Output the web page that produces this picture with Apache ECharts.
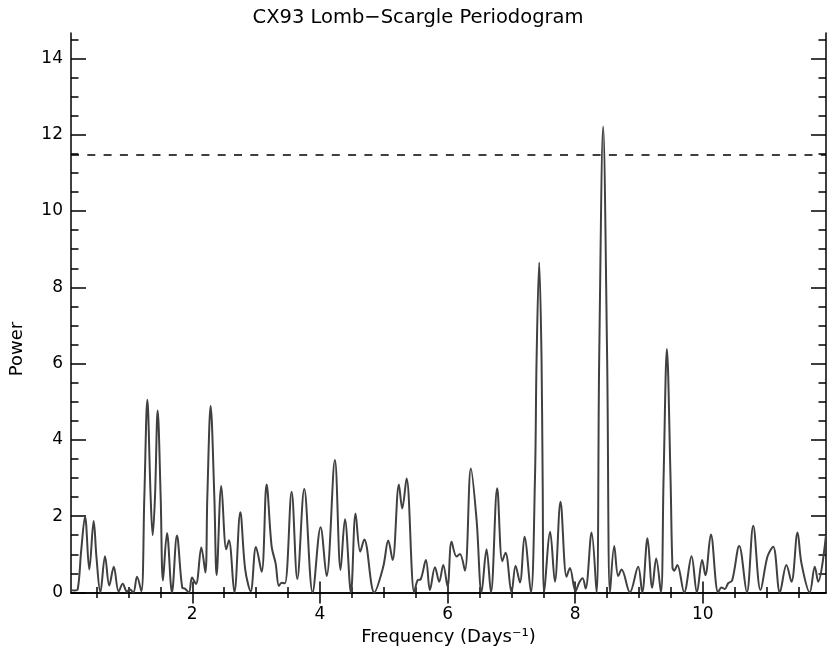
<!DOCTYPE html>
<html>
<head>
<meta charset="utf-8">
<script src="https://cdn.jsdelivr.net/npm/echarts@6/dist/echarts.min.js"></script>
<style>
html,body{margin:0;padding:0;background:#fff;}
#chart{width:827px;height:653px;}
</style>
</head>
<body>
<div id="chart"></div>
<script>
// Frequency (Days^-1) values
const freq = [
  0.10, 0.15, 0.205, 0.26, 0.32, 0.387, 0.455, 0.50, 0.56, 0.633, 0.70, 0.77, 0.847, 0.91, 0.977, 1.02, 1.077, 1.134, 1.202,
  1.249, 1.296, 1.348, 1.38, 1.416, 1.458, 1.505, 1.541, 1.604, 1.682, 1.76, 1.844, 1.885, 1.948, 1.996, 2.058, 2.142, 2.205,
  2.236, 2.288, 2.346, 2.382, 2.455, 2.533, 2.575, 2.66, 2.753, 2.83, 2.915, 2.998, 3.087, 3.165, 3.244, 3.306, 3.358, 3.40,
  3.452, 3.557, 3.646, 3.755, 3.886, 4.011, 4.105, 4.235, 4.324, 4.392, 4.486, 4.559, 4.632, 4.695, 4.852, 4.992, 5.071,
  5.139, 5.238, 5.29, 5.358, 5.478, 5.531, 5.578, 5.661, 5.724, 5.803, 5.87, 5.933, 6.0, 6.063, 6.141, 6.194, 6.272, 6.366,
  6.455, 6.533, 6.611, 6.68, 6.778, 6.857, 6.909, 7.003, 7.066, 7.134, 7.206, 7.306, 7.37, 7.395, 7.436, 7.473, 7.49, 7.515,
  7.608, 7.682, 7.77, 7.865, 7.917, 8.006, 8.058, 8.116, 8.163, 8.257, 8.335, 8.376, 8.438, 8.501, 8.546, 8.612, 8.674,
  8.727, 8.857, 8.987, 9.05, 9.133, 9.207, 9.269, 9.343, 9.385, 9.437, 9.494, 9.525, 9.551, 9.60, 9.708, 9.823, 9.907,
  9.99, 10.04, 10.126, 10.24, 10.293, 10.345, 10.397, 10.459, 10.57, 10.69, 10.79, 10.904, 11.013, 11.102, 11.207, 11.31,
  11.389, 11.484, 11.546, 11.675, 11.754, 11.807, 11.93
];
// Power values
const power = [
  0.06, 0.05, 0.08, 1.1, 1.99, 0.60, 1.87, 0.9, 0.0, 0.95, 0.18, 0.67, 0.02, 0.23, 0.02, 0.08, 0.0, 0.41, 0.03,
  2.5, 5.05, 2.5, 1.50, 2.5, 4.77, 2.5, 0.31, 1.56, 0.0, 1.49, 0.12, 0.10, 0.0, 0.39, 0.22, 1.18, 0.52,
  2.5, 4.89, 2.5, 0.45, 2.79, 1.13, 1.37, 0.0, 2.10, 0.6, 0.03, 1.19, 0.54, 2.83, 1.2, 0.76, 0.17, 0.25,
  0.24, 2.64, 0.35, 2.71, 0.0, 1.71, 0.43, 3.47, 0.59, 1.92, 0.0, 2.07, 1.07, 1.39, 0.0, 0.67, 1.36,
  0.85, 2.83, 2.20, 2.99, 0.0, 0.32, 0.34, 0.85, 0.06, 0.66, 0.28, 0.72, 0.15, 1.33, 0.94, 1.01, 0.57, 3.25,
  1.9, 0.0, 1.13, 0.0, 2.73, 0.82, 1.04, 0.0, 0.70, 0.26, 1.46, 0.0, 3.0, 6.1, 8.65, 6.1, 3.0, 0.0,
  1.59, 0.28, 2.38, 0.41, 0.64, 0.03, 0.24, 0.37, 0.10, 1.57, 0.0, 6.1, 12.22, 6.1, 0.0, 1.22, 0.43,
  0.60, 0.0, 0.67, 0.0, 1.42, 0.12, 0.89, 0.0, 3.0, 6.38, 3.0, 0.65, 0.57, 0.72, 0.0, 0.95, 0.0,
  0.85, 0.45, 1.52, 0.0, 0.13, 0.09, 0.24, 0.31, 1.22, 0.0, 1.75, 0.06, 0.94, 1.20, 0.0, 0.72,
  0.28, 1.57, 0.76, 0.0, 0.67, 0.28, 1.5
];
// Significance threshold (dashed line)
const threshold = [11.48];
// Tick labels
const xTickValues = [2, 4, 6, 8, 10];
const yTickValues = [0, 2, 4, 6, 8, 10, 12, 14];
// Axis extents
const xExtent = [0.10, 11.93];
const yExtent = [0, 14.67];
const yTickStep = 2;

const chart = echarts.init(document.getElementById('chart'), null, {renderer: 'canvas'});
const FONT = 'DejaVu Sans';
const axisCommon = {
  axisLine: {show: true, lineStyle: {color: '#000', width: 1.5}},
  splitLine: {show: false},
  minorSplitLine: {show: false}
};
function xAxisDef(pos, showLabels) {
  return Object.assign({}, axisCommon, {
    type: 'value', position: pos, min: xExtent[0], max: xExtent[1], splitNumber: 5,
    axisTick: {show: true, inside: true, length: 11, customValues: xTickValues,
               lineStyle: {color: '#000', width: 1.5}},
    minorTick: {show: true, splitNumber: 4, length: 5.5, lineStyle: {color: '#000', width: 1.5}},
    axisLabel: {
      show: showLabels, margin: 14, customValues: xTickValues,
      color: '#000', fontFamily: FONT, fontSize: 17
    },
    name: showLabels ? 'Frequency (Days\u207B\u00B9)' : '',
    nameLocation: 'middle', nameGap: 32,
    nameTextStyle: {color: '#000', fontFamily: FONT, fontSize: 18}
  });
}
function yAxisDef(pos, showLabels) {
  return Object.assign({}, axisCommon, {
    type: 'value', position: pos, min: yExtent[0], max: yExtent[1], interval: yTickStep,
    axisTick: {show: true, inside: true, length: 15, customValues: yTickValues,
               lineStyle: {color: '#000', width: 1.5}},
    minorTick: {show: true, splitNumber: 4, length: 7.5, lineStyle: {color: '#000', width: 1.5}},
    axisLabel: {
      show: showLabels, margin: 8, customValues: yTickValues,
      color: '#000', fontFamily: FONT, fontSize: 17
    }
  });
}

const option = {
  backgroundColor: '#fff',
  animation: false,
  title: {
    text: 'CX93 Lomb\u2212Scargle Periodogram',
    left: 413, top: 3, textAlign: 'center',
    textStyle: {color: '#000', fontFamily: FONT, fontSize: 19.5, fontWeight: 'normal'}
  },
  graphic: [{
    type: 'text', x: 17, y: 349, rotation: Math.PI / 2,
    style: {text: 'Power', fill: '#000', font: '18px "DejaVu Sans"',
            textAlign: 'center', textVerticalAlign: 'middle'}
  }],
  grid: {left: 71, right: 1, top: 33, bottom: 60.6},
  xAxis: [xAxisDef('bottom', true), xAxisDef('top', false)],
  yAxis: [yAxisDef('left', true), yAxisDef('right', false)],
  series: [{
    type: 'line',
    data: freq.map((f, i) => [f, power[i]]),
    xAxisIndex: 0, yAxisIndex: 0,
    showSymbol: false, smooth: 0.35,
    lineStyle: {color: '#404040', width: 2},
    clip: true,
    markLine: {
      silent: true, symbol: ['none', 'none'], label: {show: false},
      lineStyle: {color: '#000', width: 1.5, type: [8, 8.3]},
      data: threshold.map(t => ({yAxis: t}))
    }
  }]
};
chart.setOption(option);
</script>
</body>
</html>
